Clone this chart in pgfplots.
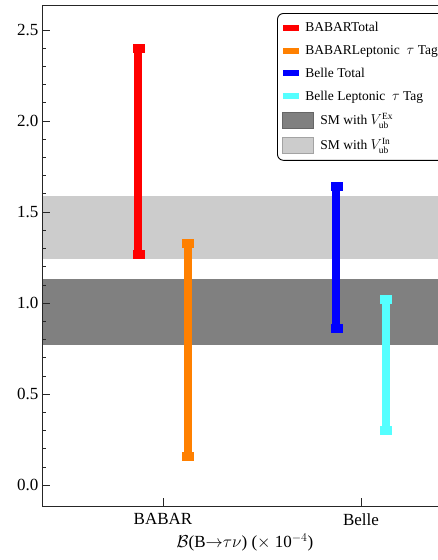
\documentclass[border=0pt]{standalone}
\usepackage{fontspec}
\usepackage{pgfplots}
\pgfplotsset{compat=1.18}
\setmainfont{Liberation Serif}
\definecolor{cRed}{RGB}{255,0,0}
\definecolor{cOrange}{RGB}{255,128,0}
\definecolor{cBlue}{RGB}{0,0,255}
\definecolor{cCyan}{RGB}{85,255,255}
\definecolor{bandDark}{RGB}{128,128,128}
\definecolor{bandLight}{RGB}{204,204,204}
\pgfplotsset{
  errbar/.style={line width=8pt, line cap=butt, mark=square*, mark size=5.5pt,
    mark options={solid, line width=0.4pt, yscale=0.72},
    legend image code/.code={\path[fill, draw=none, sharp corners] (0pt,-3pt) rectangle (16pt,3pt);}},
  bandleg/.style={legend image code/.code={\path[draw=none] (0pt,-3pt) rectangle (16pt,3pt);
    \filldraw[overlay, sharp corners, draw=#1!80!black, fill=#1, line width=0.6pt] (-1pt,-8pt) rectangle (30pt,8pt);}},
}
\begin{document}
\begin{tikzpicture}
\begin{axis}[name=ax, scale only axis, width=398pt, height=501pt,
  xmin=-0.611, xmax=1.399, ymin=-0.115, ymax=2.637,
  xtick={0,1}, xticklabels={BABAR,Belle},
  ytick={0,0.5,1,1.5,2,2.5}, minor y tick num=4,
  tick align=inside, xtick pos=left, ytick pos=left,
  major tick length=8pt, minor tick length=4pt,
  axis line style={line width=0.8pt, black!85},
  tick style={line width=0.6pt, black!85},
  ticklabel style={font=\fontsize{17}{20}\selectfont},
  xticklabel style={yshift=-4pt},
  yticklabel style={/pgf/number format/fixed,/pgf/number format/fixed zerofill,/pgf/number format/precision=1},
  /pgf/number format/assume math mode=true,
  xlabel={$\mathcal{B}$(B$\mathord{\rightarrow}\tau\nu$) ($\times$ 10$^{-4}$)},
  xlabel style={font=\fontsize{17}{20}\selectfont, xshift=4pt, yshift=-1pt},
  axis on top=true,
  legend style={at={(0.5905,0.984)}, anchor=north west, draw=black, line width=0.9pt,
    rounded corners=6pt, fill=white, font=\fontsize{13.5}{15}\selectfont,
    row sep=12pt, column sep=6pt, inner xsep=6pt, inner ysep=9pt,
    nodes={inner sep=0pt}},
  legend cell align=left,
]
\addplot[draw=none, fill=bandLight, forget plot] coordinates {(-1,1.24) (2,1.24) (2,1.59) (-1,1.59)} -- cycle;
\addplot[draw=none, fill=bandDark, forget plot] coordinates {(-1,0.77) (2,0.77) (2,1.13) (-1,1.13)} -- cycle;
\addplot[errbar, cRed] coordinates {(-0.125,1.27) (-0.125,2.40)};
\addlegendentry{BABARTotal}
\addplot[errbar, cOrange] coordinates {(0.125,0.16) (0.125,1.33)};
\addlegendentry{BABARLeptonic\ \ $\tau$ Tag}
\addplot[errbar, cBlue] coordinates {(0.875,0.86) (0.875,1.64)};
\addlegendentry{Belle Total}
\addplot[errbar, cCyan] coordinates {(1.125,0.30) (1.125,1.02)};
\addlegendentry{Belle Leptonic\ \ $\tau$ Tag\hspace{20pt}}
\addlegendimage{bandleg=bandDark}
\addlegendentry{\hspace{15pt}SM with $V_{\mathrm{ub}}^{\mathrm{Ex}}$}
\addlegendimage{bandleg=bandLight}
\addlegendentry{\hspace{15pt}SM with $V_{\mathrm{ub}}^{\mathrm{In}}$}
\end{axis}
\pgfresetboundingbox
\path[use as bounding box] ([xshift=-42pt,yshift=-54pt]ax.south west) rectangle ([xshift=395pt,yshift=5pt]ax.north west);
\end{tikzpicture}
\end{document}
